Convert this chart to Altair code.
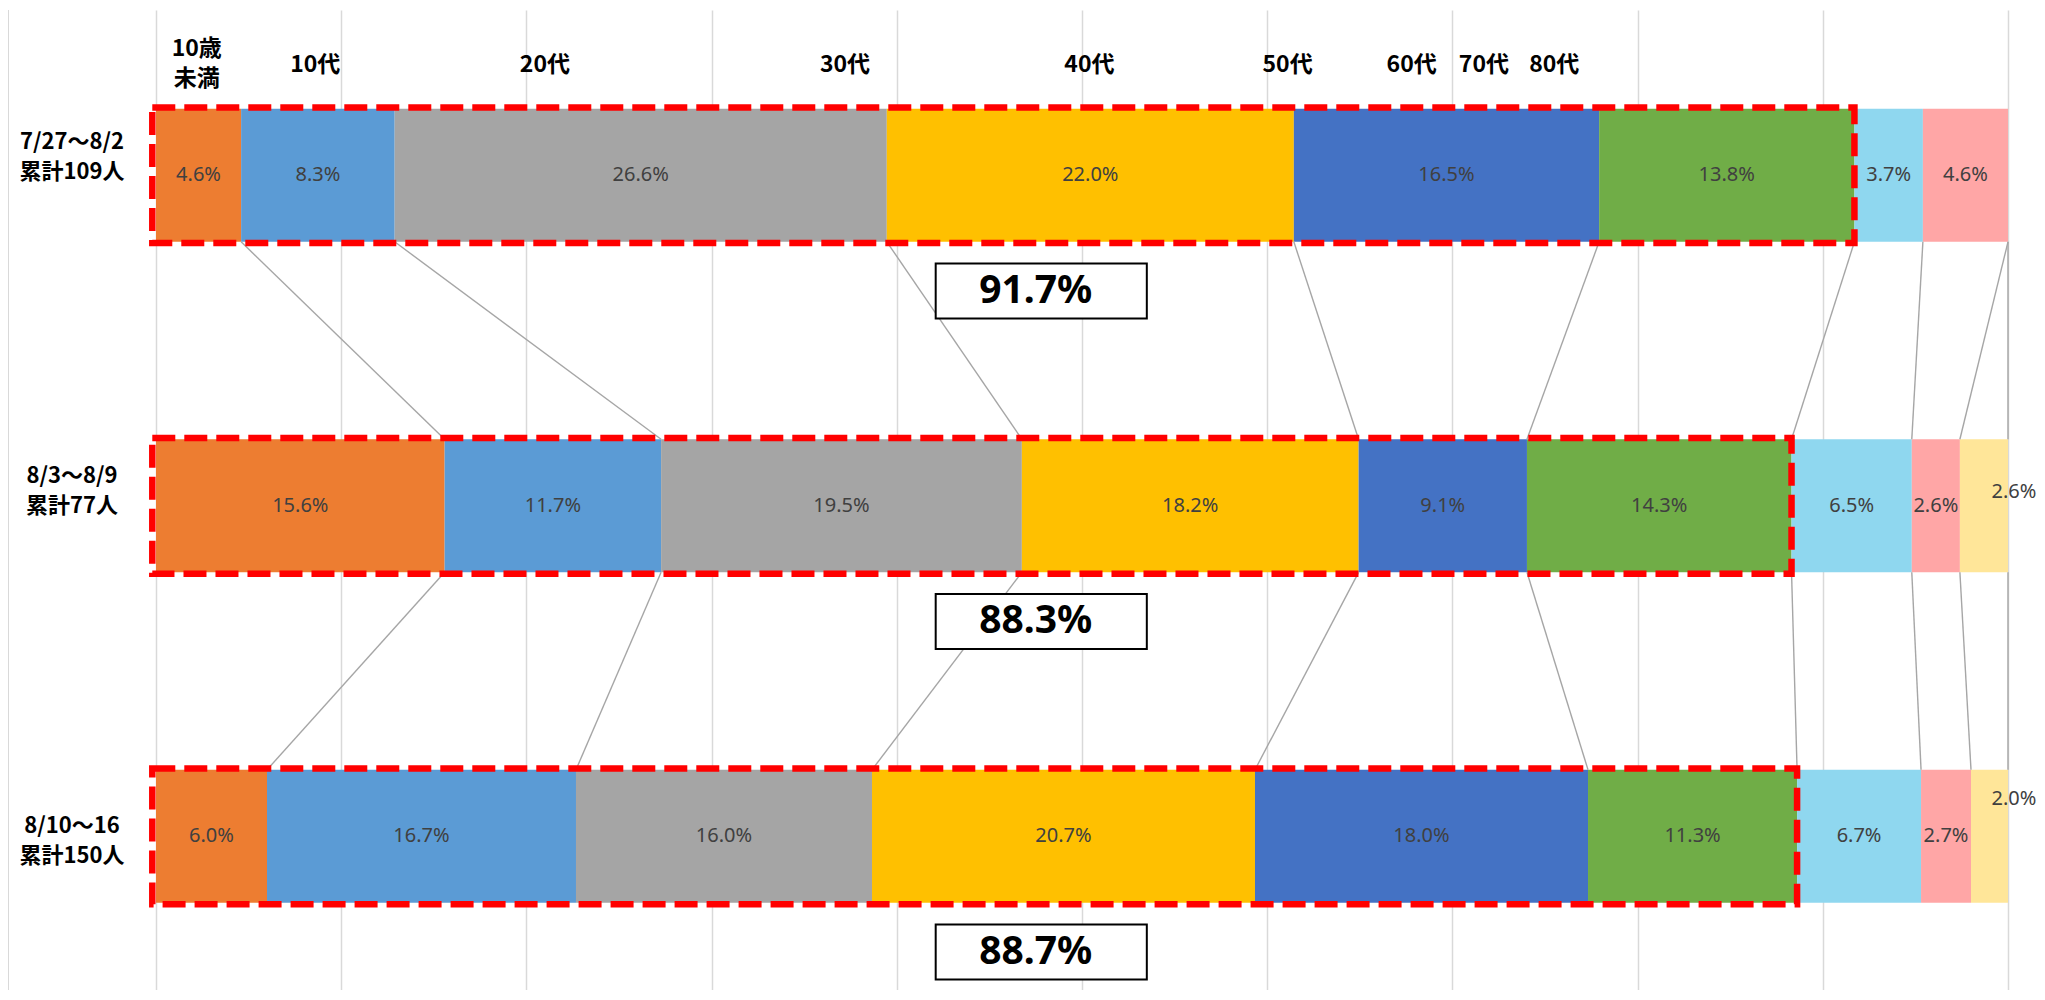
import altair as alt
import pandas as pd

# ---------------- data ----------------
rows = ["7/27～8/2\n累計109人", "8/3～8/9\n累計77人", "8/10～16\n累計150人"]
ages = ["10歳未満", "10代", "20代", "30代", "40代", "50代", "60代", "70代", "80代"]
row1 = [4.6, 8.3, 26.6, 22.0, 16.5, 13.8, 3.7, 4.6, 0.0]
row2 = [15.6, 11.7, 19.5, 18.2, 9.1, 14.3, 6.5, 2.6, 2.6]
row3 = [6.0, 16.7, 16.0, 20.7, 18.0, 11.3, 6.7, 2.7, 2.0]
under60 = ["91.7%", "88.3%", "88.7%"]
header_text = ["10歳\n未満", "10代", "20代", "30代", "40代", "50代", "60代", "70代", "80代"]
grid_ticks = list(range(0, 101, 10))

# annotation placement (not data)
header_x = [2.2, 8.6, 21.0, 37.2, 50.4, 61.1, 67.8, 71.7, 75.5]
header_y = -0.335
rowlabel_shift = [-0.054, -0.045, 0.015]
colors = ["#ED7D31", "#5B9BD5", "#A5A5A5", "#FFC000", "#4472C4",
          "#70AD47", "#8FD7EF", "#FFA6A6", "#FFE699"]
HALF = 0.2013          # half bar thickness in row units
BOX_X0, BOX_X1, BOX_TXT = 42.1, 53.5, 47.5
BOX_YC, BOX_HALF = 0.35, 0.083

values = [row1, row2, row3]

# ---------------- tables ----------------
seg = []
ends = []
for i, vals in enumerate(values):
    total = sum(vals)
    c = 0.0
    e = []
    for k, v in enumerate(vals):
        x0 = c / total * 100
        c += v
        x1 = c / total * 100
        e.append(x1)
        seg.append(dict(row=i, age=ages[k], val=v, label=f"{v:.1f}%",
                        x0=x0, x1=x1, xm=(x0 + x1) / 2,
                        y0=i - HALF, y1=i + HALF))
    ends.append(e)
seg = pd.DataFrame(seg)

lines = []
for i in range(len(values) - 1):
    for k in range(len(ages)):
        lines.append(dict(xa=ends[i][k], xb=ends[i + 1][k],
                          ya=i + HALF, yb=i + 1 - HALF))
lines = pd.DataFrame(lines)

boxes = pd.DataFrame([dict(row=i, txt=under60[i], xe=ends[i][5],
                           y0=i - HALF - 0.004, y1=i + HALF + 0.004,
                           by0=i + BOX_YC - BOX_HALF, by1=i + BOX_YC + BOX_HALF,
                           by=i + BOX_YC)
                      for i in range(len(values))])

rowlab = pd.DataFrame(dict(t=rows, y=[i + s for i, s in enumerate(rowlabel_shift)]))

heads = pd.DataFrame(dict(t=header_text, x=header_x, y=[header_y] * len(header_text)))

# ---------------- scales ----------------
xs = alt.Scale(domain=[0, 100], nice=False, zero=False)
ys = alt.Scale(domain=[-0.5, 2.465], reverse=True, nice=False, zero=False)
xax = alt.Axis(values=grid_ticks, labels=False, ticks=False, domain=False, grid=True,
               gridColor="#D9D9D9", gridWidth=1.5, orient="top", title=None)


def X(field):
    return alt.X(field, scale=xs, axis=xax, title=None)


def Y(field):
    return alt.Y(field, scale=ys, axis=None, title=None)


base_seg = alt.Chart(seg)

bars = base_seg.mark_rect().encode(
    x=X("x0:Q"), x2="x1:Q",
    y=Y("y0:Q"), y2="y1:Q",
    color=alt.Color("age:N", scale=alt.Scale(domain=ages, range=colors), legend=None),
)

series = alt.Chart(lines).mark_rule(color="#A6A6A6", strokeWidth=1.4).encode(
    x=X("xa:Q"), x2="xb:Q", y=Y("ya:Q"), y2="yb:Q",
)

red = alt.Chart(boxes).mark_rect(filled=False, stroke="#FF0000", strokeWidth=6.5,
                                 strokeDash=[23, 9]).encode(
    x=X("x0:Q"), x2="xe:Q", y=Y("y0:Q"), y2="y1:Q",
).transform_calculate(x0="-0.2")

txt_style = dict(font="Noto Sans", fontSize=20, color="#404040",
                 baseline="middle", align="center")

seg_txt = base_seg.transform_filter("datum.age != '80代' && datum.val > 0").mark_text(
    **txt_style).encode(x=X("xm:Q"), y=Y("row:Q"), text="label:N")

late2 = base_seg.transform_filter("datum.age == '80代' && datum.row == 1").mark_text(
    dx=6, dy=-14, **txt_style).encode(x=X("x1:Q"), y=Y("row:Q"), text="label:N")

late3 = base_seg.transform_filter("datum.age == '80代' && datum.row == 2").mark_text(
    dx=6, dy=-37, **txt_style).encode(x=X("x1:Q"), y=Y("row:Q"), text="label:N")

pbox = alt.Chart(boxes).mark_rect(fill="#FFFFFF", stroke="#000000", strokeWidth=2).encode(
    x=X("bx0:Q"), x2="bx1:Q", y=Y("by0:Q"), y2="by1:Q",
).transform_calculate(bx0=str(BOX_X0), bx1=str(BOX_X1))

ptxt = alt.Chart(boxes).mark_text(font="Noto Sans", fontWeight="bold", fontSize=39,
                                  color="#000000", baseline="middle", align="center").encode(
    x=X("bx:Q"), y=Y("by:Q"), text="txt:N",
).transform_calculate(bx=str(BOX_TXT))

head_style = dict(font="Noto Sans CJK JP", fontWeight="bold", fontSize=23,
                  color="#000000", baseline="middle", align="center",
                  lineBreak="\n", lineHeight=30)
head1 = alt.Chart(heads).transform_filter("indexof(datum.t, '\\n') < 0").mark_text(
    **head_style).encode(x=X("x:Q"), y=Y("y:Q"), text="t:N")
head2 = alt.Chart(heads).transform_filter("indexof(datum.t, '\\n') >= 0").mark_text(
    dy=-16, **head_style).encode(x=X("x:Q"), y=Y("y:Q"), text="t:N")

ylab = alt.Chart(rowlab).mark_text(font="Noto Sans CJK JP", fontWeight="bold", fontSize=22,
                                   color="#000000", baseline="middle", align="center",
                                   lineBreak="\n", lineHeight=30, dy=-15).encode(
    x=alt.value(-84), y=Y("y:Q"), text="t:N",
)

frame = alt.Chart(heads).mark_rule(color="#D9D9D9", strokeWidth=1.5).encode(
    x=alt.value(-148), y=alt.value(0), y2=alt.value(980)
)

chart = alt.layer(frame, bars, series, red, seg_txt, late2, late3, pbox, ptxt,
                  head1, head2, ylab).properties(
    width=1852, height=980,
    padding={"left": 148, "top": 2, "right": 29, "bottom": 0},
    autosize="none",
    background="#FFFFFF",
).configure_view(strokeWidth=0, stroke="transparent")

chart.save("out.html", embed_options={"renderer": "svg", "actions": False})
